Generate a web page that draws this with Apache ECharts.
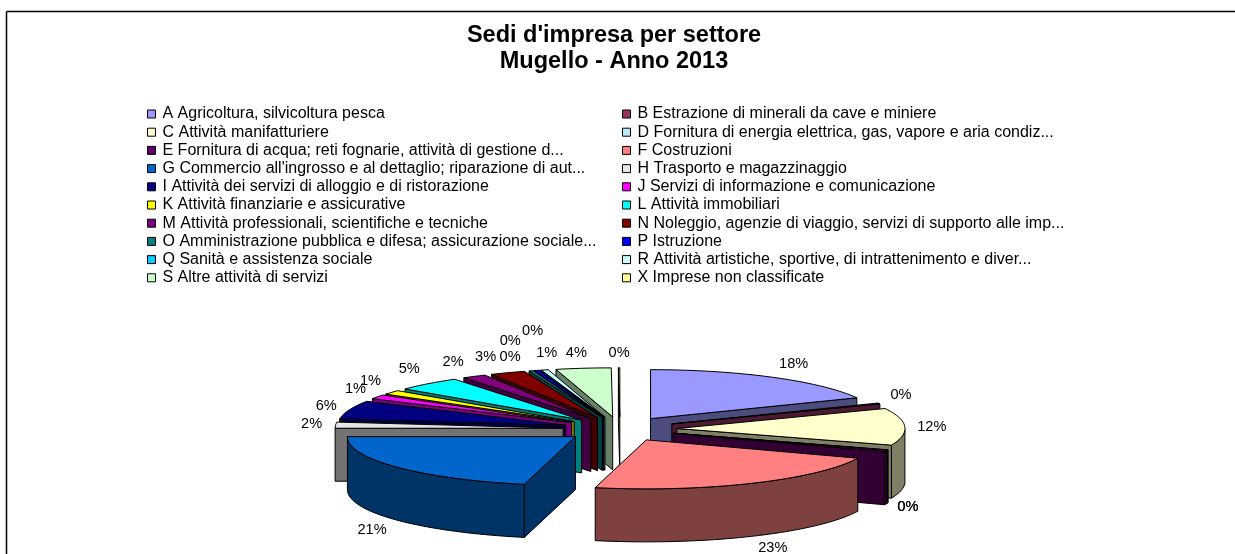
<!DOCTYPE html>
<html>
<head>
<meta charset="utf-8">
<title>Sedi d'impresa per settore</title>
<script src="https://cdn.jsdelivr.net/npm/echarts@6/dist/echarts.min.js"></script>
<style>
html, body { margin: 0; padding: 0; background: #fff; }
#main { width: 1235px; height: 554px; }
</style>
</head>
<body>
<div id="main"></div>
<script>
var settori = [
    'A Agricoltura, silvicoltura pesca',
    'B Estrazione di minerali da cave e miniere',
    'C Attività manifatturiere',
    'D Fornitura di energia elettrica, gas, vapore e aria condiz...',
    'E Fornitura di acqua; reti fognarie, attività di gestione d...',
    'F Costruzioni',
    "G Commercio all'ingrosso e al dettaglio; riparazione di aut...",
    'H Trasporto e magazzinaggio',
    'I Attività dei servizi di alloggio e di ristorazione',
    'J Servizi di informazione e comunicazione',
    'K Attività finanziarie e assicurative',
    'L Attività immobiliari',
    'M Attività professionali, scientifiche e tecniche',
    'N Noleggio, agenzie di viaggio, servizi di supporto alle imp...',
    'O Amministrazione pubblica e difesa; assicurazione sociale...',
    'P Istruzione',
    'Q Sanità e assistenza sociale',
    'R Attività artistiche, sportive, di intrattenimento e diver...',
    'S Altre attività di servizi',
    'X Imprese non classificate'
];
// quote in %
var quote = [18.0, 0.3, 12.2, 0.1, 0.5, 22.5, 21.4, 2.0, 6.1, 1.4, 1.4, 4.7, 1.7, 2.5, 0.3, 0.3, 0.1, 0.5, 3.9, 0.1];
var etichette = ['18%', '0%', '12%', '0%', '0%', '23%', '21%', '2%', '6%', '1%', '1%', '5%', '2%', '3%', '0%', '0%', '0%', '1%', '4%', '0%'];

var colori = ['#9999FF', '#993366', '#FFFFCC', '#BFE8F8', '#660066', '#FF8080', '#0066CC', '#E6E6E6', '#000080', '#FF00FF',
    '#FFFF00', '#00FFFF', '#800080', '#800000', '#008080', '#0000FF', '#00CCFF', '#CCFFFF', '#CCFFCC', '#FFFF99'];

// spostamento delle etichette rispetto al bordo della fetta
var spostaEtichette = [[21, -13], [22, -8], [27, 0], [20, 4], [22, 3], [21, 12], [-25, 10], [-24, -1], [-23, -4], [-22, -8],
    [-21, -11], [-19, -15], [-21, -14], [-22, -16], [-21, -14], [-26, -29], [-7, -39], [2, -17], [-7, -15], [0, -15]];

var FONT = '"Liberation Sans", Arial, sans-serif';
var cx = 620, cy = 429, rx = 228, ry = 49, spessore = 53, esplosione = 57;

function scurisci(c) {
    var r = parseInt(c.substr(1, 2), 16) >> 1, g = parseInt(c.substr(3, 2), 16) >> 1, b = parseInt(c.substr(5, 2), 16) >> 1;
    return 'rgb(' + r + ',' + g + ',' + b + ')';
}
function angolo(q) {
    return echarts.number.linearMap(q, [0, 100], [0, Math.PI * 2]);
}
function poly(punti, fill) {
    return {
        type: 'polygon',
        shape: { points: punti },
        style: { fill: fill, stroke: '#000', lineWidth: 1, lineJoin: 'round' }
    };
}

function disegnaFetta(params, api) {
    var a0 = angolo(api.value(0)), a1 = angolo(api.value(1));
    var mid = (a0 + a1) / 2;
    var idx = api.value(2);
    var colore = colori[idx];
    // centro della fetta spostato lungo la bisettrice
    var ox = cx + esplosione * Math.sin(mid);
    var oy = cy - esplosione * ry / rx * Math.cos(mid);

    function bordo(a) {
        return [ox + rx * Math.sin(a), oy - ry * Math.cos(a)];
    }
    function taglio(p) {
        return poly([[ox, oy], p, [p[0], p[1] + spessore], [ox, oy + spessore]], lato);
    }
    var arco = [];
    var passi = Math.max(2, Math.ceil((a1 - a0) / 0.03));
    for (var k = 0; k <= passi; k++) {
        arco.push(bordo(a0 + (a1 - a0) * k / passi));
    }
    var lato = scurisci(colore);
    var figli = [];

    // pareti tagliate, solo quelle rivolte verso chi guarda
    if (Math.sin(a0) < 0) {
        figli.push(taglio(arco[0]));
    }
    if (Math.sin(a1) > 0) {
        figli.push(taglio(arco[arco.length - 1]));
    }
    // parete esterna, solo la parte davanti
    var davanti = arco.filter(function (p) { return p[1] >= oy; });
    if (davanti.length > 1) {
        var parete = davanti.slice();
        for (var j = davanti.length - 1; j >= 0; j--) {
            parete.push([davanti[j][0], davanti[j][1] + spessore]);
        }
        figli.push(poly(parete, lato));
    }
    // faccia superiore
    figli.push(poly([[ox, oy]].concat(arco), colore));

    // etichetta
    var lx = cx + (esplosione + rx) * Math.sin(mid);
    var ly = cy - (esplosione * ry / rx + ry) * Math.cos(mid) + (Math.cos(mid) < 0 ? spessore : 0);
    figli.push({
        type: 'text',
        style: {
            x: lx + spostaEtichette[idx][0],
            y: ly + spostaEtichette[idx][1],
            text: etichette[idx],
            fill: '#000',
            font: '14.6px ' + FONT,
            align: 'center',
            verticalAlign: 'middle'
        }
    });
    return { type: 'group', children: figli };
}

// dati cumulati e ordine di disegno: dalle fette dietro a quelle davanti
var fette = [];
var somma = 0;
quote.forEach(function (q, i) {
    fette.push({ i: i, da: somma, a: somma + q });
    somma += q;
});
fette.sort(function (f, g) {
    return Math.cos(angolo((g.da + g.a) / 2)) - Math.cos(angolo((f.da + f.a) / 2));
});

var serie = fette.map(function (f) {
    return {
        type: 'custom',
        name: settori[f.i],
        coordinateSystem: 'none',
        renderItem: disegnaFetta,
        silent: true,
        animation: false,
        itemStyle: { color: colori[f.i] },
        data: [[f.da, f.a, f.i]]
    };
});

function legenda(resto, left) {
    return {
        left: left,
        top: 101,
        orient: 'vertical',
        selectedMode: false,
        icon: 'rect',
        itemWidth: 8,
        itemHeight: 8,
        itemGap: 2.2,
        itemStyle: { borderColor: '#000', borderWidth: 1 },
        textStyle: { fontFamily: FONT, fontSize: 16, color: '#000', lineHeight: 14, padding: [0, 0, 0, 2] },
        data: settori.filter(function (s, i) { return i % 2 === resto; })
    };
}

var myChart = echarts.init(document.getElementById('main'), null, { renderer: 'canvas' });
var option = {
    backgroundColor: '#fff',
    animation: false,
    title: {
        text: "Sedi d'impresa per settore\nMugello - Anno 2013",
        left: 609,
        top: 18,
        textAlign: 'center',
        textStyle: { fontFamily: FONT, fontSize: 23.5, fontWeight: 'bold', color: '#000', lineHeight: 26 }
    },
    legend: [legenda(0, 142), legenda(1, 617)],
    // cornice: solo lato sinistro e lato alto
    graphic: [
        { type: 'line', shape: { x1: 6.5, y1: 11.5, x2: 6.5, y2: 554 }, style: { stroke: '#000', lineWidth: 1.5 } },
        { type: 'line', shape: { x1: 6.5, y1: 11.5, x2: 1235, y2: 11.5 }, style: { stroke: '#000', lineWidth: 1.5 } }
    ],
    series: serie
};
myChart.setOption(option);
</script>
</body>
</html>
